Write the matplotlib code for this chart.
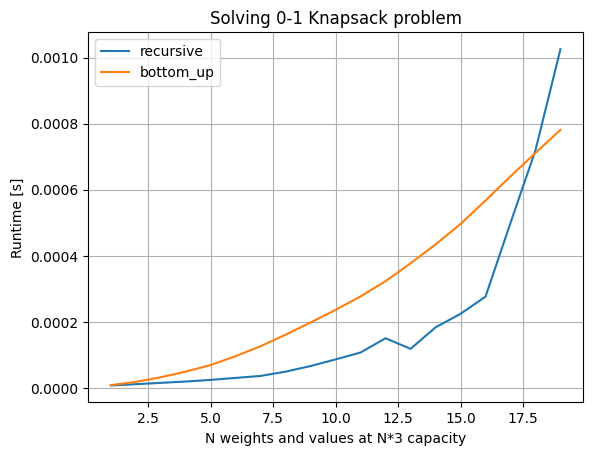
import matplotlib
matplotlib.use("Agg")
import matplotlib.pyplot as plt

n_values = list(range(1, 20))
recursive = [0.000008, 0.000012, 0.000016, 0.000020, 0.000025, 0.000031, 0.000037,
             0.000050, 0.000067, 0.000087, 0.000108, 0.000151, 0.000119, 0.000184,
             0.000225, 0.000277, 0.000500, 0.000720, 0.001026]
bottom_up = [0.000009, 0.000019, 0.000033, 0.000050, 0.000070, 0.000097, 0.000127,
             0.000162, 0.000199, 0.000237, 0.000278, 0.000324, 0.000378, 0.000435,
             0.000497, 0.000568, 0.000641, 0.000712, 0.000782]

fig = plt.figure(figsize=(5.93, 4.55), dpi=100)
ax = fig.add_axes([0.149, 0.1158, 0.834, 0.813])
ax.plot(n_values, recursive, label="recursive")
ax.plot(n_values, bottom_up, label="bottom_up")
ax.set_title("Solving 0-1 Knapsack problem")
ax.set_xlabel("N weights and values at N*3 capacity")
ax.set_ylabel("Runtime [s]")
ax.grid(True)
ax.legend(loc="upper left")
fig.savefig("out.png", dpi=100)
